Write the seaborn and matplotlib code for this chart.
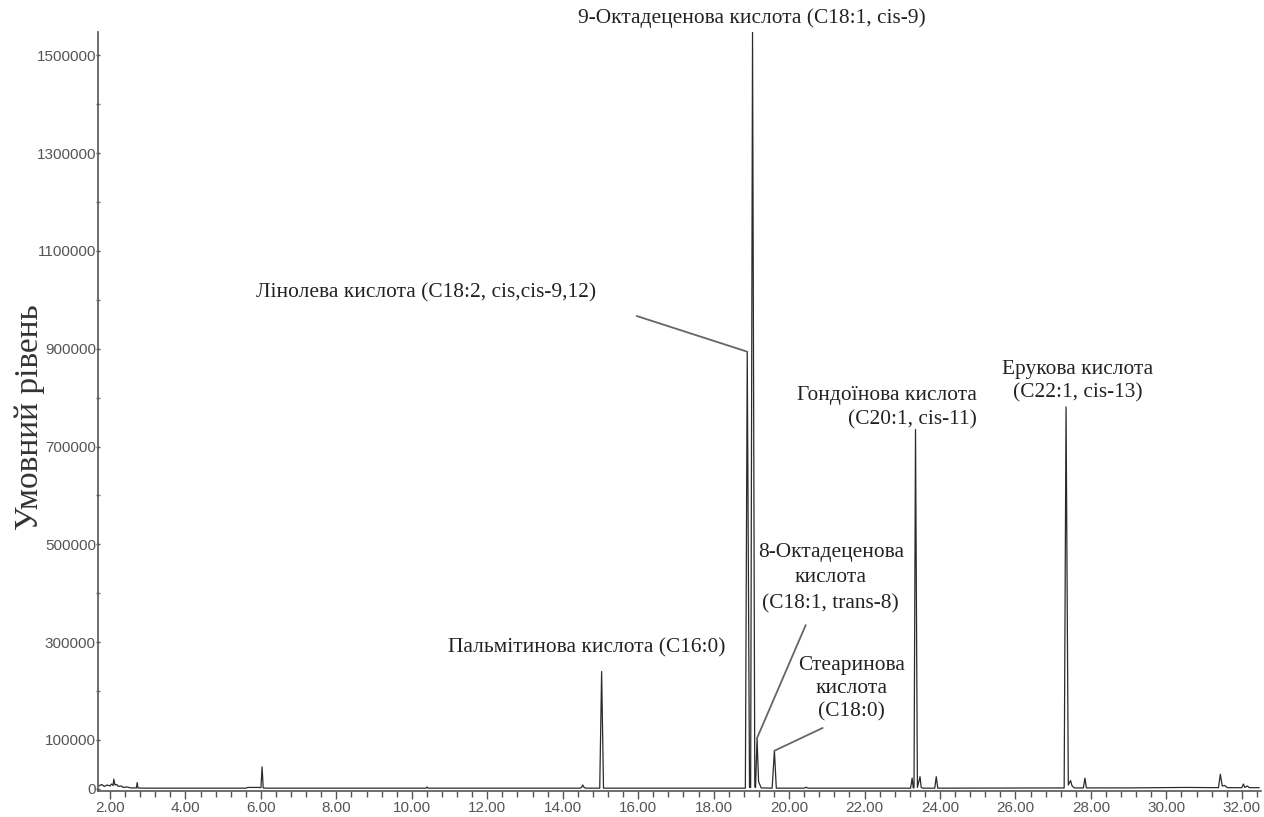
import matplotlib
matplotlib.use("Agg")
import matplotlib.pyplot as plt
import matplotlib.ticker as mticker
import seaborn as sns
import pandas as pd

# ---- data: chromatogram polyline (retention time, min / signal, a.u.) ----
retention_time = [
    1.70, 1.78, 1.85, 1.92, 2.00, 2.04, 2.08, 2.10, 2.13, 2.18, 2.22, 2.30, 2.35,
    2.45, 2.55, 2.70, 2.72, 2.74, 2.77, 3.00, 3.40, 4.50, 5.60, 5.65, 5.95, 6.00,
    6.03, 6.06, 6.15, 8.00, 10.38, 10.40, 10.43, 12.00, 14.45, 14.50, 14.53, 14.57,
    14.62, 14.98, 15.03, 15.08, 15.30, 18.00, 18.84, 18.89, 18.95, 18.98, 19.03,
    19.09, 19.11, 19.15, 19.19, 19.26, 19.55, 19.61, 19.66, 20.40, 20.45, 20.50,
    22.00, 23.22, 23.26, 23.29, 23.31, 23.35, 23.40, 23.47, 23.50, 23.54, 23.86,
    23.90, 23.94, 26.00, 27.29, 27.34, 27.40, 27.46, 27.50, 27.56, 27.80, 27.84,
    27.88, 29.00, 30.50, 31.38, 31.43, 31.48, 31.55, 31.60, 31.66, 32.00, 32.04,
    32.08, 32.14, 32.20, 32.46,
]
signal = [
    6000, 9000, 5000, 8000, 6000, 10000, 7000, 20000, 8000, 9000, 5000, 6000, 3000,
    4000, 2000, 2000, 13000, 2000, 1800, 1500, 1500, 1500, 1500, 3000, 3000, 2500,
    45000, 2000, 1500, 1500, 1500, 4000, 1500, 1500, 1500, 3000, 8000, 2500,
    1500, 1500, 240000, 1500, 1500, 1500, 1500, 894000, 3000, 3000, 1550000,
    4000, 3000, 104000, 15000, 2000, 1500, 78000, 1500, 1500, 3500, 1500,
    1500, 1500, 22000, 2000, 2000, 735000, 3000, 25000, 3000, 1500, 1500,
    25000, 1500, 1800, 2000, 781000, 8000, 17000, 6000, 2000, 2000, 22000,
    2000, 2000, 3000, 2500, 30000, 6000, 7000, 3000, 2500, 2500, 10000,
    3000, 6000, 2500, 2500,
]

x_tick_values = [2, 4, 6, 8, 10, 12, 14, 16, 18, 20, 22, 24, 26, 28, 30, 32]
x_tick_labels = ["2.00", "4.00", "6.00", "8.00", "10.00", "12.00", "14.00", "16.00",
                 "18.00", "20.00", "22.00", "24.00", "26.00", "28.00", "30.00", "32.00"]
y_tick_values = [0, 100000, 300000, 500000, 700000, 900000, 1100000, 1300000, 1500000]
y_tick_labels = ["0", "100000", "300000", "500000", "700000", "900000",
                 "1100000", "1300000", "1500000"]

peak_names = [
    "9-Октадеценова кислота (C18:1, cis-9)",
    "Лінолева кислота (C18:2, cis,cis-9,12)",
    "Пальмітинова кислота (C16:0)",
    "8-Октадеценова\nкислота\n(C18:1, trans-8)",
    "Стеаринова\nкислота\n(C18:0)",
    "Гондоїнова кислота\n(C20:1, cis-11)",
    "Ерукова кислота\n(C22:1, cis-13)",
]
peak_rt = [19.03, 18.89, 15.03, 19.15, 19.61, 23.35, 27.34]
peak_height = [1550000, 894000, 240000, 104000, 78000, 735000, 781000]

df = pd.DataFrame({"rt": retention_time, "signal": signal})

# ---- style ----
sns.set_style("ticks")
plt.rcParams["font.family"] = ["Liberation Sans", "DejaVu Sans"]

fig = plt.figure(figsize=(12.64, 8.17), dpi=100)
ax = fig.add_axes([0.0775, 0.032, 0.9205, 0.929])

sns.lineplot(data=df, x="rt", y="signal", ax=ax, color="#2b2b2b", lw=0.9,
             estimator=None, sort=False)

ax.set_xlim(1.68, 32.52)
ax.set_ylim(-4000, 1548000)

ax.xaxis.set_major_locator(mticker.FixedLocator(x_tick_values))
ax.set_xticklabels(x_tick_labels)
ax.xaxis.set_minor_locator(mticker.MultipleLocator(0.4))
ax.yaxis.set_major_locator(mticker.FixedLocator(y_tick_values))
ax.set_yticklabels(y_tick_labels)
ax.yaxis.set_minor_locator(mticker.FixedLocator([200000 * i for i in range(1, 8)]))

for lab in ax.get_xticklabels() + ax.get_yticklabels():
    lab.set_fontfamily(["Liberation Sans", "DejaVu Sans"])
    lab.set_fontsize(11)
    lab.set_color("#555555")

ax.tick_params(axis="x", which="major", direction="out", length=6, width=1,
               color="#555555", pad=1)
ax.tick_params(axis="x", which="minor", direction="out", length=4, width=1,
               color="#555555")
ax.tick_params(axis="y", which="major", direction="inout", length=3, width=1,
               color="#555555", pad=0)
ax.tick_params(axis="y", which="minor", direction="inout", length=3, width=1,
               color="#777777")

for s in ["top", "right"]:
    ax.spines[s].set_visible(False)
for s in ["left", "bottom"]:
    ax.spines[s].set_color("#555555")
    ax.spines[s].set_linewidth(1.2)

ax.set_xlabel("")
ax.set_ylabel("")
fig.text(30 / 1264, 1 - 417 / 817, "Умовний рівень",
         fontfamily=["Liberation Serif", "DejaVu Serif"], fontsize=24,
         color="#333333", rotation=90, ha="center", va="center")

serif = ["Liberation Serif", "DejaVu Serif"]
txt_kw = dict(fontfamily=serif, fontsize=15.4, color="#222222",
              va="center", clip_on=False)
line_kw = dict(color="#666666", lw=1.3)

# label positions (layout)
label_pos = [(19.01, 1577000), (10.37, 1014000), (14.64, 288000), (21.10, 431000),
             (21.66, 204500), (24.97, 780000), (27.64, 833000)]
label_ha = ["center", "center", "center", "center", "center", "right", "center"]
label_spacing = [1.2, 1.2, 1.2, 1.45, 1.3, 1.36, 1.28]
leader_start = [None, (15.96, 967000), None, (20.44, 335000), (20.89, 124700), None, None]

for name, (lx, ly), ha, sp, ls, px, py in zip(peak_names, label_pos, label_ha,
                                              label_spacing, leader_start,
                                              peak_rt, peak_height):
    ax.text(lx, ly, name, ha=ha, multialignment=ha, linespacing=sp, **txt_kw)
    if ls is not None:
        ax.plot([ls[0], px], [ls[1], py], **line_kw)

fig.savefig("out.png", dpi=100)
